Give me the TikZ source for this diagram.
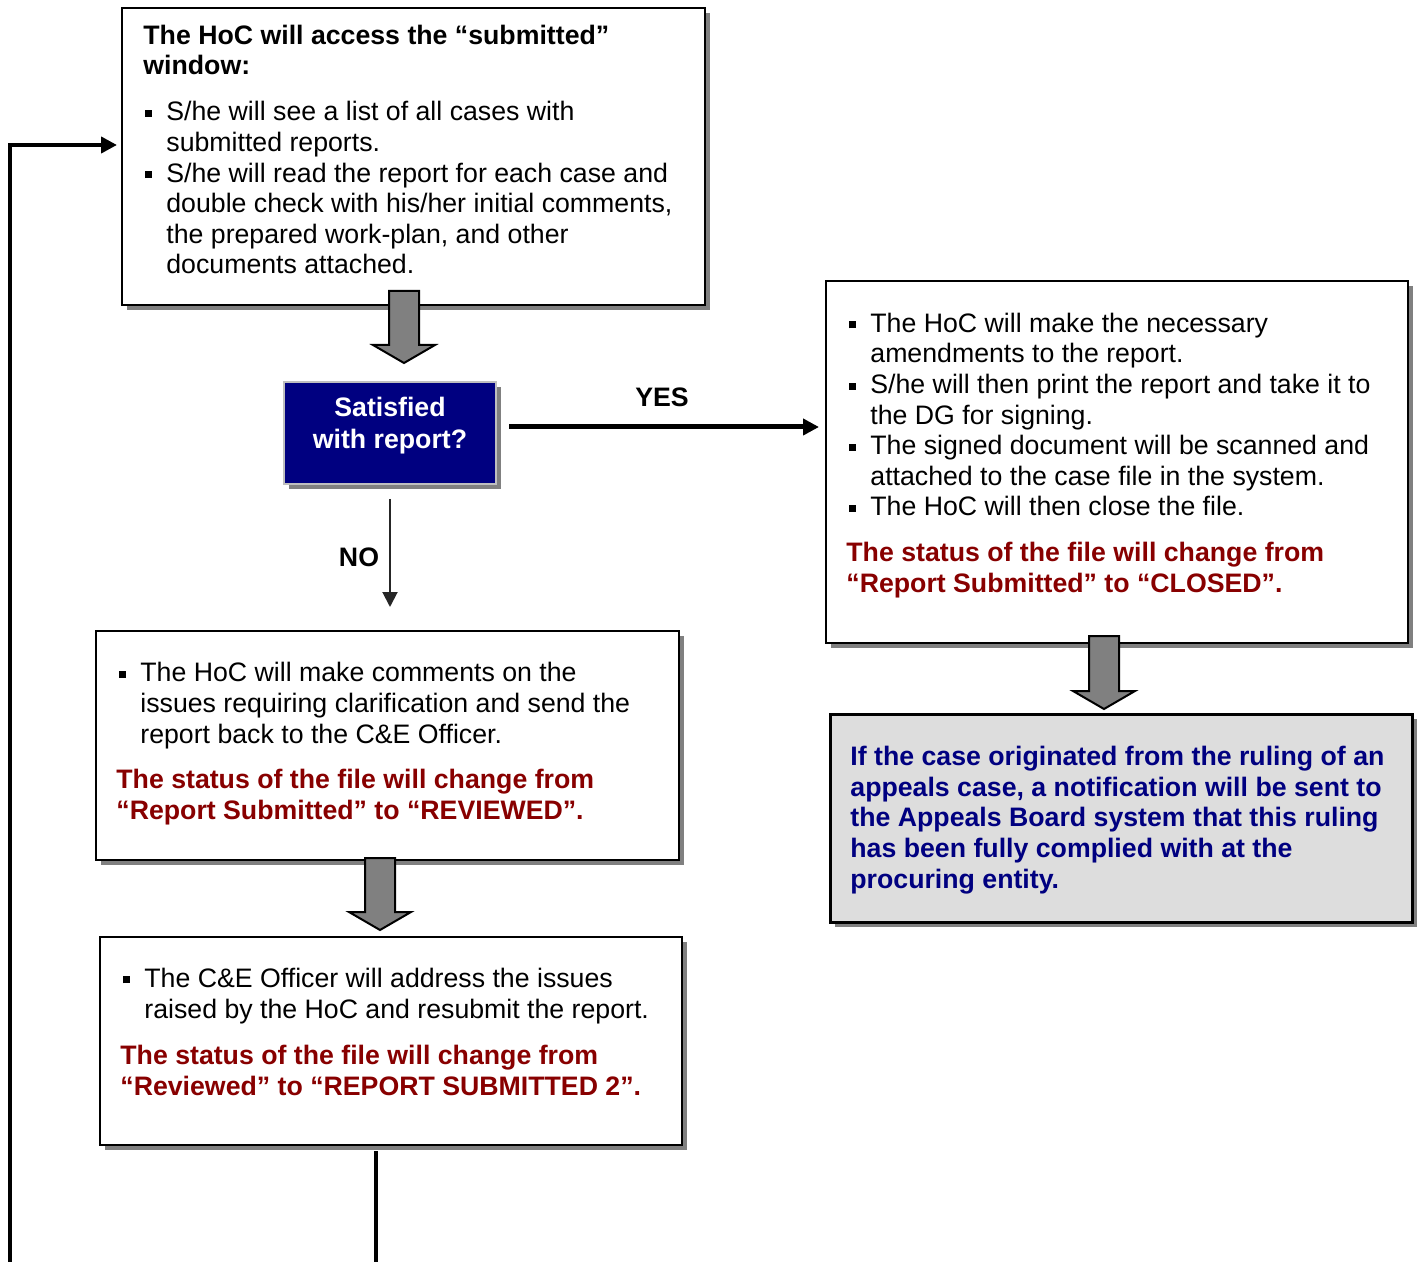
\documentclass[tikz,border=0pt]{standalone}
\usepackage{fontspec}
\setmainfont{Liberation Sans}
\usetikzlibrary{fit,shadows,arrows.meta,calc}
\definecolor{statusred}{HTML}{880000}
\definecolor{navyblue}{HTML}{000080}
\definecolor{shadowgray}{HTML}{808080}
\definecolor{notegray}{HTML}{DDDDDD}
\definecolor{fatgray}{HTML}{808080}
% square bullet and hanging indent
\newcommand\bsq{\makebox[10.5pt][l]{\rule[2pt]{3.5pt}{3.5pt}}}
\newcommand\hang{\hspace*{10.5pt}}
\begin{document}
\begin{tikzpicture}[x=0.5pt,y=-0.5pt,
  font=\fontsize{13.35pt}{15.3pt}\selectfont,
  box/.style={draw=black,line width=1pt,fill=white,inner sep=0pt,
    drop shadow={shadow xshift=2.5pt,shadow yshift=-2.5pt,fill=shadowgray,opacity=1}},
  notebox/.style={box,fill=notegray,line width=1.5pt},
  decbox/.style={draw=black!25,line width=1pt,fill=navyblue,inner sep=0pt,
    drop shadow={shadow xshift=2.5pt,shadow yshift=-2.5pt,fill=shadowgray,opacity=1}},
  % multi-line texts are placed by the baseline of their last line
  txt/.style={inner sep=0pt,align=left,anchor=base west},
  status/.style={txt,font=\fontsize{13.35pt}{15.3pt}\selectfont\bfseries,text=statusred},
  fatarr/.style={draw=black,line width=1pt,fill=fatgray,line join=miter},
  flow/.style={line width=2pt},
  thinflow/.style={line width=1pt,draw=black!85}]
\useasboundingbox (0,0) rectangle (1419,1262);

% free ends of the connectors at the lower edge
\coordinate (loopin) at (10,1262);
\coordinate (b4out) at (376,1262);

% boxes
\node[box,fit={(122,8) (705,305)}] (b1) {};
\node[decbox,fit={(284,382) (496,484)}] (dec) {};
\node[box,fit={(826,281) (1408,643)}] (rb) {};
\node[notebox,fit={(830,714) (1412,922)}] (nb2) {};
\node[box,fit={(96,631) (679,860)}] (nb) {};
\node[box,fit={(100,937) (682,1145)}] (b4) {};

% loop back to the top box
\coordinate (loopend) at ([shift={(-4,-11.5)}]b1.west);
\draw[flow,-{Triangle[length=8pt,width=8pt]}] (loopin) |- (loopend);
\draw[flow] (b4.south -| b4out) ++(0,5) -- (b4out);

% top box text
\node[txt,font=\fontsize{13.35pt}{15.3pt}\selectfont\bfseries] (b1title) at (143,75)
  {The HoC will access the “submitted”\\window:};
\node[txt] (b1list) at (145,274)
  {\bsq S/he will see a list of all cases with\\
   \hang submitted reports.\\
   \bsq S/he will read the report for each case and\\
   \hang double check with his/her initial comments,\\
   \hang the prepared work-plan, and other\\
   \hang documents attached.};

% decision
\node[inner sep=0pt,align=center,anchor=base,text=white,
  font=\fontsize{13.35pt}{16pt}\selectfont\bfseries] (dectext) at (390,449)
  {Satisfied\\with report?};

% YES branch
\coordinate (yesstart) at ([shift={(12,-6)}]dec.east);
\draw[line width=2.5pt,-{Triangle[length=8pt,width=8pt]}]
  (yesstart) -- ([xshift=-3pt]yesstart -| rb.west);
\node[inner sep=0pt,anchor=base,font=\fontsize{13.35pt}{15.3pt}\selectfont\bfseries] (yes) at (662,407) {YES};

% NO branch
\draw[thinflow,-{Triangle[length=7.5pt,width=7.5pt]},shorten <=7pt,shorten >=11.5pt]
  (dec.south) -- (dec.south |- nb.north);
\node[inner sep=0pt,anchor=base,font=\fontsize{13.35pt}{15.3pt}\selectfont\bfseries] (no) at (359,566) {NO};

% right box text
\node[txt] (rblist) at (849,516)
  {\bsq The HoC will make the necessary\\
   \hang amendments to the report.\\
   \bsq S/he will then print the report and take it to\\
   \hang the DG for signing.\\
   \bsq The signed document will be scanned and\\
   \hang attached to the case file in the system.\\
   \bsq The HoC will then close the file.};
\node[status] (rbstatus) at (846,592)
  {The status of the file will change from\\“Report Submitted” to “CLOSED”.};

% notification box text
\node[txt,font=\fontsize{13.35pt}{15.3pt}\selectfont\bfseries,text=navyblue] (nb2text) at (850,888)
  {If the case originated from the ruling of an\\
   appeals case, a notification will be sent to\\
   the Appeals Board system that this ruling\\
   has been fully complied with at the\\
   procuring entity.};

% NO box text
\node[txt] (nblist) at (119,743)
  {\bsq The HoC will make comments on the\\
   \hang issues requiring clarification and send the\\
   \hang report back to the C\&E Officer.};
\node[status] (nbstatus) at (116,819)
  {The status of the file will change from\\“Report Submitted” to “REVIEWED”.};

% resubmission box text
\node[txt] (b4list) at (123,1018)
  {\bsq The C\&E Officer will address the issues\\
   \hang raised by the HoC and resubmit the report.};
\node[status] (b4status) at (120,1095)
  {The status of the file will change from\\“Reviewed” to “REPORT SUBMITTED 2”.};

% block arrows between boxes
\draw[fatarr] (389,291) -- (419,291) -- (419,345) -- (435,345) -- (404,363)
  -- (373,345) -- (389,345) -- cycle;
\draw[fatarr] (1089,636) -- (1119,636) -- (1119,691) -- (1135,691) -- (1104,709)
  -- (1073,691) -- (1089,691) -- cycle;
\draw[fatarr] (365,858) -- (395,858) -- (395,912) -- (411,912) -- (380,930)
  -- (349,912) -- (365,912) -- cycle;
\end{tikzpicture}
\end{document}
